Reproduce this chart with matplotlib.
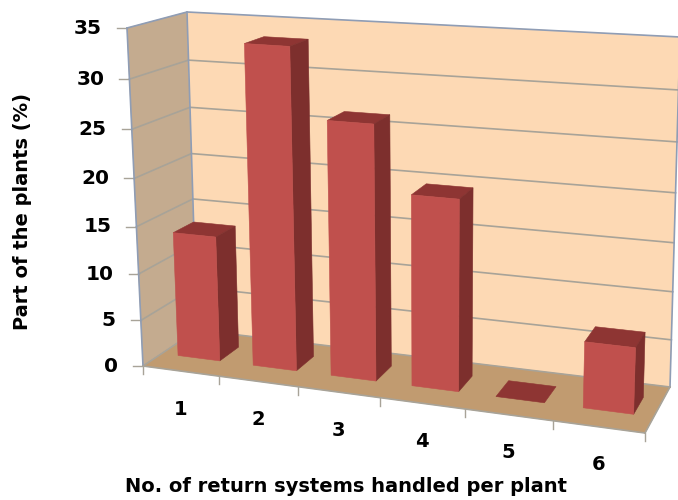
import numpy as np
import matplotlib
matplotlib.use("Agg")
import matplotlib.pyplot as plt

# Chart data
categories = ["1", "2", "3", "4", "5", "6"]
values = [13.5, 33.5, 26.5, 19.8, 0, 6.8]
y_ticks = [0, 5, 10, 15, 20, 25, 30, 35]
x_title = "No. of return systems handled per plant"
y_title = "Part of the plants (%)"

# Pixel positions of the eight corners of the plot box: (category side, depth, top)
BOX = {
    (0, 0, 1): (127, 28), (0, 0, 0): (143, 366),
    (1, 0, 1): (657, 62), (1, 0, 0): (645, 433),
    (0, 1, 1): (187, 12), (0, 1, 0): (197, 330),
    (1, 1, 1): (680, 37), (1, 1, 0): (670, 387),
}
W_X, W_Y = 1.12, 1.07
BAR_LO, BAR_HI = 0.22, 0.78
DEPTH_LO, DEPTH_HI = 0.35, 0.72


def warp(t, w):
    return t / (t + w * (1 - t))


def project(cat, val, depth):
    """Oblique perspective projection of (category, value, depth) to pixels."""
    u = warp(cat / len(categories), W_X)
    v = warp(val / max(y_ticks), W_Y)
    p = np.zeros(2)
    for i, wi in ((0, 1 - u), (1, u)):
        for j, wj in ((0, 1 - depth), (1, depth)):
            for k, wk in ((0, 1 - v), (1, v)):
                p += wi * wj * wk * np.array(BOX[(i, j, k)])
    return p


fig = plt.figure(figsize=(6.78, 5.0), dpi=100)
ax = fig.add_axes([0, 0, 1, 1])
ax.set_xlim(0, 678)
ax.set_ylim(500, 0)
ax.axis("off")

n = len(categories)
top = max(y_ticks)
FONT = "DejaVu Sans"
GRID = "#a8a398"
EDGE = "#8f9db5"


def face(points, color, z=2):
    ax.fill(*zip(*points), facecolor=color, edgecolor=color, linewidth=0.4, zorder=z)


# Walls and floor
face([project(0, 0, 0), project(0, top, 0), project(0, top, 1), project(0, 0, 1)], "#c4ab8f")
face([project(0, 0, 1), project(0, top, 1), project(n, top, 1), project(n, 0, 1)], "#fdd9b4")
face([project(0, 0, 0), project(0, 0, 1), project(n, 0, 1), project(n, 0, 0)], "#c19b70", z=2.5)

# Gridlines, wall edges and ticks
for t in y_ticks:
    a, b, c = project(0, t, 0), project(0, t, 1), project(n, t, 1)
    col = EDGE if t == top else GRID
    ax.plot([a[0], b[0], c[0]], [a[1], b[1], c[1]], color=col, lw=1.2, zorder=3)
    ax.plot([a[0] - 10, a[0]], [a[1], a[1]], color=GRID, lw=1.0, zorder=3)
    ax.text(a[0] - 25, a[1], str(t), ha="right", va="center", fontsize=14.5,
            fontweight="bold", family=FONT, color="black")

for pts in ([project(0, 0, 0), project(0, top, 0)],
            [project(0, 0, 1), project(0, top, 1)],
            [project(n, 0, 1), project(n, top, 1)]):
    ax.plot(*zip(*pts), color=EDGE, lw=1.2, zorder=3)
for pts in ([project(0, 0, 0), project(n, 0, 0)], [project(n, 0, 0), project(n, 0, 1)]):
    ax.plot(*zip(*pts), color=GRID, lw=1.2, zorder=3)
for c in range(n + 1):
    p = project(c, 0, 0)
    ax.plot([p[0], p[0]], [p[1], p[1] + 8], color=GRID, lw=1.0, zorder=3)

# Category labels
for c, lab in enumerate(categories):
    p = project(c + 0.5, 0, 0)
    ax.text(p[0], p[1] + 38, lab, ha="center", va="center", fontsize=14,
            fontweight="bold", family=FONT, color="black")

# Bars, drawn left to right
for c, val in enumerate(values):
    x0, x1 = c + BAR_LO, c + BAR_HI
    z0, z1 = DEPTH_LO, DEPTH_HI
    zo = 4 + c * 0.1
    face([project(x0, val, z0), project(x1, val, z0), project(x1, val, z1), project(x0, val, z1)],
         "#8e3533", z=zo)
    if val > 0:
        face([project(x1, 0, z0), project(x1, val, z0), project(x1, val, z1), project(x1, 0, z1)],
             "#7d2f2d", z=zo)
        face([project(x0, 0, z0), project(x1, 0, z0), project(x1, val, z0), project(x0, val, z0)],
             "#c0504d", z=zo)

# Axis titles
ax.text(346, 487, x_title, ha="center", va="center", fontsize=14, fontweight="bold",
        family=FONT, color="black")
ax.text(23, 211, y_title, ha="center", va="center", rotation=90, fontsize=14,
        fontweight="bold", family=FONT, color="black")

fig.savefig("out.png", dpi=100)
